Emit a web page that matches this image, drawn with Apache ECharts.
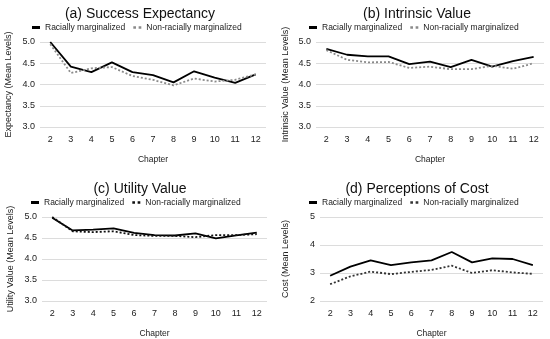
<!DOCTYPE html>
<html><head><meta charset="utf-8">
<script src="https://cdn.jsdelivr.net/npm/echarts@6/dist/echarts.min.js"></script>
<style>html,body{margin:0;padding:0;background:#fff}#c{width:550px;height:339px}</style>
</head><body><div id="c"></div>
<script>
const chapters = ['2','3','4','5','6','7','8','9','10','11','12'];
const seriesNames = ['Racially marginalized','Non-racially marginalized'];
const titles = ['(a) Success Expectancy','(b) Intrinsic Value','(c) Utility Value','(d) Perceptions of Cost'];
const yNames = ['Expectancy (Mean Levels)','Intrinsic Value (Mean Levels)','Utility Value (Mean Levels)','Cost (Mean Levels)'];
const expRacial = [5.0,4.42,4.29,4.52,4.29,4.22,4.05,4.31,4.16,4.04,4.24];
const expNon    = [4.95,4.27,4.38,4.41,4.20,4.11,3.98,4.14,4.07,4.11,4.24];
const intRacial = [4.84,4.70,4.66,4.66,4.48,4.54,4.41,4.58,4.42,4.55,4.65];
const intNon    = [4.81,4.58,4.52,4.53,4.39,4.42,4.36,4.36,4.44,4.37,4.50];
const utlRacial = [4.98,4.68,4.70,4.73,4.62,4.57,4.56,4.61,4.49,4.56,4.63];
const utlNon    = [5.00,4.66,4.64,4.66,4.57,4.55,4.55,4.52,4.57,4.57,4.59];
const costRacial= [2.90,3.23,3.45,3.28,3.38,3.45,3.75,3.38,3.52,3.50,3.28];
const costNon   = [2.60,2.88,3.05,2.96,3.04,3.11,3.26,3.00,3.10,3.02,2.97];
const yMins = [3,3,3,2], yMaxs = [5,5,5,5], yInts = [0.5,0.5,0.5,1];
const data = [[expRacial,expNon],[intRacial,intNon],[utlRacial,utlNon],[costRacial,costNon]];

const font = 'Liberation Sans, Arial, sans-serif';
const grids = [
  {left:40, top:42, width:226, height:85},
  {left:316, top:42, width:228, height:85},
  {left:42, top:217, width:225, height:86},
  {left:320, top:217, width:223, height:85}
];
const titlePos = [{x:135,y:2},{x:412,y:2},{x:135,y:177},{x:412,y:177}];
const legendPos = [{x:32,y:23},{x:309,y:23},{x:31,y:198},{x:309,y:198}];
const nonColors = ['#8a8a8a','#8a8a8a','#111','#333'];
const yGaps = [27,26,27,30];
const dotIcon = 'path://M0,0H3V3H0ZM6,0H9V3H6Z';

const option = {title:[],legend:[],grid:[],xAxis:[],yAxis:[],series:[],animation:false};
for (let i=0;i<4;i++){
  option.title.push({text:titles[i], left:titlePos[i].x, top:titlePos[i].y, textAlign:'center',
    textStyle:{fontFamily:font,fontSize:14,fontWeight:'normal',color:'#111'}});
  option.legend.push({left:legendPos[i].x, top:legendPos[i].y, width:300, itemGap:8, itemWidth:8, itemHeight:3,
    padding:0, textStyle:{fontFamily:font,fontSize:8.5,color:'#222'},
    data:[{name:seriesNames[0]+'\u200b'.repeat(i),icon:'rect'},{name:seriesNames[1]+'\u200b'.repeat(i),icon:dotIcon,itemStyle:{color:nonColors[i]}}]});
  option.grid.push(Object.assign({}, grids[i]));
  option.xAxis.push({type:'category', gridIndex:i, data:chapters, boundaryGap:true,
    axisLine:{show:false}, axisTick:{show:false},
    axisLabel:{fontFamily:font,fontSize:9,color:'#222',margin:8},
    name:'Chapter', nameLocation:'middle', nameGap:28,
    nameTextStyle:{fontFamily:font,fontSize:8.5,color:'#222'}});
  option.yAxis.push({type:'value', gridIndex:i, min:yMins[i], max:yMaxs[i], interval:yInts[i],
    axisLine:{show:false}, axisTick:{show:false},
    axisLabel:{fontFamily:font,fontSize:9,color:'#222',margin:5,
      formatter: v => yInts[i] < 1 ? v.toFixed(1) : String(v)},
    splitLine:{lineStyle:{color:'#dcdcdc',width:1}},
    name:yNames[i], nameLocation:'middle', nameGap:yGaps[i], nameRotate:90,
    nameTextStyle:{fontFamily:font,fontSize:9,color:'#222'}});
  option.series.push({type:'line', name:seriesNames[0]+'\u200b'.repeat(i), xAxisIndex:i, yAxisIndex:i,
    data:data[i][0], symbol:'none', lineStyle:{color:'#000',width:1.8}, itemStyle:{color:'#000'}});
  option.series.push({type:'line', name:seriesNames[1]+'\u200b'.repeat(i), xAxisIndex:i, yAxisIndex:i,
    data:data[i][1], symbol:'none', lineStyle:{color:nonColors[i],width:1.8,type:[2,2]}, itemStyle:{color:nonColors[i]}});
}
const chart = echarts.init(document.getElementById('c'), null, {renderer:'canvas'});
chart.setOption(option);
</script></body></html>
